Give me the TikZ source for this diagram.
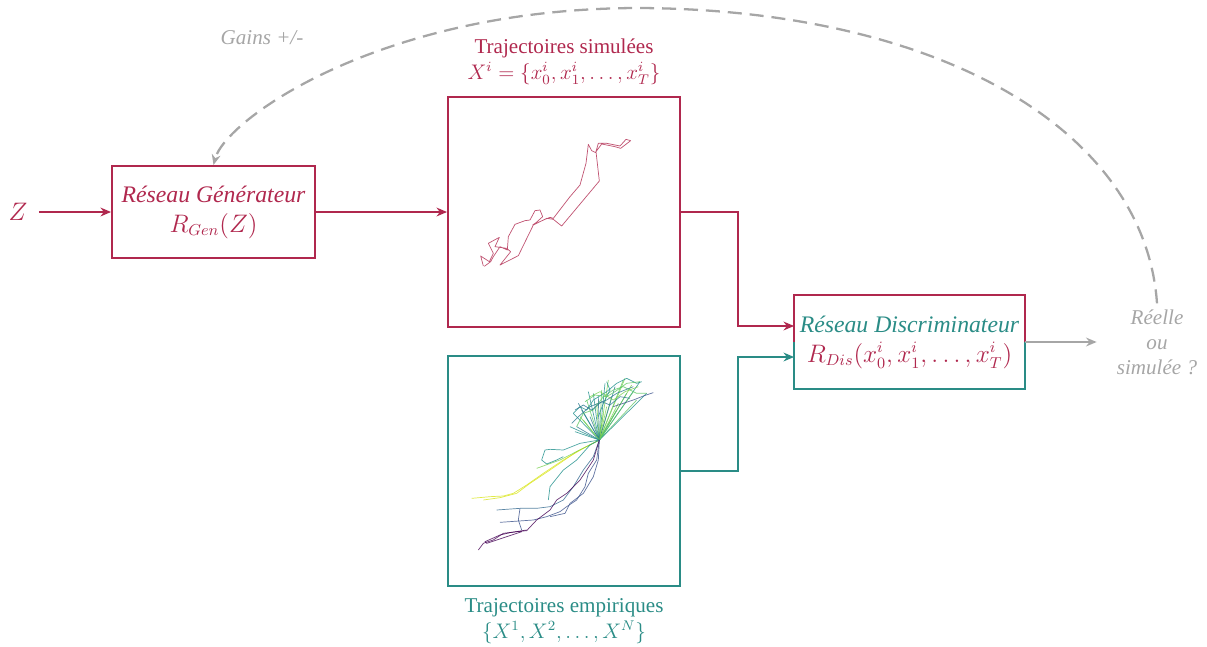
\documentclass[tikz,border=0pt]{standalone}
\usepackage{amsmath}
\usepackage{fontspec}
\setmainfont{Liberation Serif}
\usepackage{tikz}
\usetikzlibrary{
  arrows.meta,
  positioning,
  calc,
}
\definecolor{simred}{HTML}{B0284E}
\definecolor{empteal}{HTML}{2A8C86}
\definecolor{fbgray}{HTML}{A6A6A6}
\definecolor{virA}{HTML}{440154}
\definecolor{virB}{HTML}{3B528B}
\definecolor{virC}{HTML}{21908C}
\definecolor{virD}{HTML}{5DC863}
\definecolor{virE}{HTML}{D9E51A}
\definecolor{virF}{HTML}{2A788E}
\definecolor{virG}{HTML}{7AD151}
\definecolor{virH}{HTML}{31688E}

\begin{document}
\begin{tikzpicture}[
    x=0.02cm, y=-0.02cm,
    >={Stealth[length=6pt, width=5pt]},
    box/.style={draw, line width=1.1pt, minimum width=4.06cm, minimum height=1.84cm,
                align=center, inner sep=0pt},
    plotbox/.style={draw, line width=1.1pt, minimum width=4.64cm, minimum height=4.6cm},
    label/.style={align=center, font=\fontsize{12}{14.6}\selectfont},
    link/.style={line width=1.1pt, ->},
    traj/.style={line width=0.4pt, opacity=0.8, line join=round},
  ]
  \useasboundingbox (0,0) rectangle (1207,646);

  % blocks
  \node[box, draw=simred, text=simred, font=\fontsize{13.5}{16}\selectfont]
    (gen) at (213.5,212) {\itshape Réseau Générateur\\[1pt] $R_{Gen}(Z)$};
  \node[plotbox, draw=simred] (sim) at (564,212) {};
  \node[plotbox, draw=empteal] (emp) at (564,471) {};
  \node[box, draw=none, minimum width=4.58cm, font=\fontsize{13.5}{16}\selectfont]
    (dis) at (909.5,342) {\color{empteal}\itshape Réseau Discriminateur\\[1pt]
      \color{simred}$R_{Dis}(x_0^i, x_1^i, \ldots, x_T^i)$};
  \draw[simred, line width=1.1pt] (dis.west) |- (dis.north) -| (dis.east);
  \draw[empteal, line width=1.1pt] (dis.west) |- (dis.south) -| (dis.east);

  \node[text=simred, font=\fontsize{15}{18}\selectfont] (z) at (18,212) {$Z$};
  \node[label, text=simred, above=3pt of sim]
    (simlbl) {Trajectoires simulées\\ $X^i = \left\{x_0^i, x_1^i, \ldots, x_T^i\right\}$};
  \node[label, text=empteal, below=3pt of emp]
    (emplbl) {Trajectoires empiriques\\ $\{X^1, X^2, \ldots, X^N\}$};
  \node[label, text=fbgray, font=\fontsize{12}{14.2}\selectfont\itshape]
    (out) at (1157,342) {Réelle\\ou\\simulée ?};
  \node[text=fbgray, font=\fontsize{12}{14}\selectfont\itshape] (gains) at (262,38) {Gains +/-};

  % connectors
  \draw[link, simred, shorten <=3pt] (z.east) -- (gen.west);
  \draw[link, simred] (gen.east) -- (sim.west);
  \draw[link, simred] (sim.east) -- ++(57,0) |- ($(dis.west)+(0,-16)$);
  \draw[link, empteal] (emp.east) -- ++(57,0) |- ($(dis.west)+(0,15)$);
  \draw[link, fbgray, line width=1pt, shorten >=8pt] (dis.east) -- (out.west);
  \draw[->, fbgray, line width=1.3pt, dash pattern=on 8pt off 4.5pt]
    (out.north) .. controls (1145,130) and (940,10) .. (640,8)
    .. controls (380,8) and (225,120) .. (gen.north);

  % simulated trajectory
  \begin{scope}[shift={(450,110)}, scale=1/3]
    \draw[traj, simred] (100,468) -- (92,438) -- (118,455) -- (130,430) -- (115,400)
      -- (148,382) -- (135,410) -- (170,415) -- (182,425) -- (150,465) -- (205,437)
      -- (250,345) -- (290,325) -- (310,328) -- (335,348) -- (448,213) -- (438,125)
      -- (455,102) -- (495,110) -- (512,115) -- (542,92) -- (528,88) -- (510,108)
      -- (470,100) -- (445,100) -- (437,128) -- (425,122) -- (415,103) -- (408,160)
      -- (390,225) -- (360,260) -- (310,325) -- (300,322) -- (285,328) -- (248,345)
      -- (258,338) -- (278,320) -- (270,300) -- (255,302) -- (240,330) -- (225,332)
      -- (195,343) -- (175,380) -- (172,420) -- (150,410) -- (130,440) -- (122,455)
      -- (103,469);
  \end{scope}

  % empirical trajectories
  \begin{scope}[shift={(450,360)}, scale=1/3]
    \coordinate (hub) at (448,240);
    \foreach \px/\py/\c in {370/160/virC, 380/200/virF, 395/150/virC, 410/120/virD,
        420/170/virF, 430/100/virC, 440/130/virG, 455/90/virD, 465/70/virC,
        470/140/virG, 485/110/virD, 495/80/virF, 505/130/virG, 520/60/virD,
        530/100/virC, 545/75/virG, 560/120/virD, 570/65/virC, 590/100/virC,
        400/180/virD, 375/215/virC, 460/160/virG, 500/150/virD, 385/130/virF,
        415/95/virC, 475/60/virG, 525/55/virG, 550/95/virD, 445/110/virF,
        390/170/virG, 360/200/virC}
      \draw[traj, \c] (hub) -- (\px,\py);
    \draw[traj, virC] (370,160) -- (390,140) -- (410,150) -- (430,120) -- (470,95)
      -- (500,70) -- (530,55) -- (560,70) -- (575,65);
    \draw[traj, virD] (380,200) -- (400,160) -- (430,150) -- (460,110) -- (490,90)
      -- (520,80) -- (560,100) -- (590,100);
    \draw[traj, virF] (365,190) -- (385,170) -- (420,140) -- (470,120) -- (500,100)
      -- (550,80);
    \draw[traj, virC] (470,65) -- (480,90) -- (460,130) -- (445,170);
    \draw[traj, virG] (420,110) -- (450,95) -- (490,120) -- (525,95) -- (565,80);
    \draw[traj, virF] (375,150) -- (400,135) -- (425,150) -- (455,125) -- (480,135)
      -- (510,110) -- (540,115);
    \draw[traj, virD] (405,125) -- (435,105) -- (470,110) -- (495,95) -- (530,70)
      -- (570,65);
    \draw[traj, virB] (610,98) -- (580,108) -- (550,120) -- (520,130) -- (490,140);
    \draw[traj, virE] (hub) -- (400,265) -- (340,300) -- (280,340) -- (230,375)
      -- (190,400) -- (160,408) -- (120,410) -- (65,415);
    \draw[traj, virE] (hub) -- (380,275) -- (300,330) -- (240,370) -- (200,400)
      -- (150,413) -- (100,420);
    \draw[traj, virG] (hub) -- (330,300) -- (260,325);
    \draw[traj, virC] (hub) -- (390,250) -- (340,270) -- (300,268) -- (285,270)
      -- (275,300) -- (290,312) -- (320,300) -- (340,290);
    \draw[traj, virC] (hub) -- (420,255) -- (380,300) -- (340,330) -- (300,380)
      -- (295,420);
    \draw[traj, virH] (hub) -- (430,290) -- (400,330) -- (370,380) -- (340,420)
      -- (300,440) -- (260,445) -- (210,445) -- (140,450);
    \draw[traj, virB] (hub) -- (440,300) -- (415,340) -- (405,380) -- (380,420)
      -- (350,440) -- (330,455) -- (290,470) -- (250,480) -- (150,487);
    \draw[traj, virA] (hub) -- (430,300) -- (390,360) -- (350,400) -- (320,420)
      -- (300,450) -- (260,480) -- (230,512) -- (200,515) -- (160,520) -- (130,540)
      -- (100,550) -- (85,570);
    \draw[traj, virA] (230,510) -- (180,518) -- (150,525) -- (105,545) -- (110,550)
      -- (170,530) -- (215,515);
    \draw[traj, virB] (hub) -- (445,300) -- (430,350) -- (400,400) -- (360,430)
      -- (345,460) -- (300,470);
    \draw[traj, virB] (210,445) -- (205,480) -- (215,510);
  \end{scope}
\end{tikzpicture}
\end{document}
